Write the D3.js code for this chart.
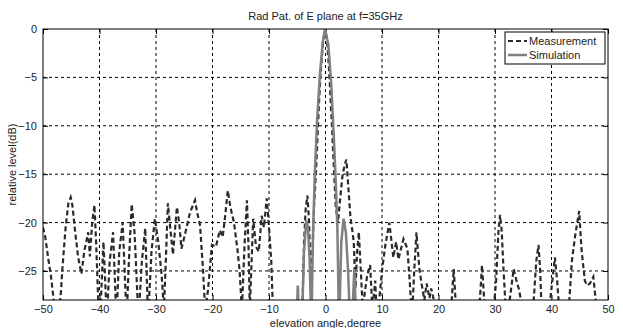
<!DOCTYPE html>
<html>
<head>
<meta charset="utf-8">
<script src="https://cdn.jsdelivr.net/npm/d3@7"></script>
<style>
  body { margin: 0; background: #fff; }
  text { font-family: "Liberation Sans", Arial, sans-serif; fill: #222; }
</style>
</head>
<body>
<div id="chart"></div>
<script>
const title = 'Rad Pat. of E plane at f=35GHz';
const xLabel = 'elevation angle,degree';
const yLabel = 'relative level(dB)';
const xTicks = [-50, -40, -30, -20, -10, 0, 10, 20, 30, 40, 50];
const yTicks = [0, -5, -10, -15, -20, -25];
const seriesNames = ['Measurement', 'Simulation'];

const measAngle = [
  -50, -49.6, -49, -48.6, -48.2, -47.8, -47.3, -46.8, -46.6, -46, -45.5, -45.1, -44.8, -44.3, -43.8, -43.2,
  -42.7, -42, -41.7, -41.3, -40.9, -40.6, -40.2, -39.9, -39.3, -38.7, -38.2, -37.6, -37, -36.5, -35.9, -35.2,
  -34.8, -34.3, -33.8, -33.1, -32.5, -31.9, -31.4, -30.8, -30.2, -29.6, -29, -28.6, -28.2, -27.9, -27.4, -27,
  -26.3, -25.9, -25.5, -24.9, -24, -23.1, -22.7, -22.2, -21.7, -21.3, -20.8, -20.5, -20.1, -19.4, -18.7, -18.2,
  -17.7, -17.3, -16.8, -16.2, -15.6, -15.2, -14.8, -14.3, -13.9, -13.6, -13.4, -12.8, -12.3, -11.8, -11.3, -10.9,
  -10.4, -10, -9.6, -9.3, -8.9, -8.5, -8, -7, -6, -5, -4.4, -4.1, -3.8, -3.5, -3.2, -2.9,
  -2.6, -2.3, -2, -1.7, -1.4, -1.1, -0.8, -0.4, 0, 0.3, 0.6, 0.9, 1.2, 1.5, 1.8, 2.2,
  2.6, 3, 3.4, 3.7, 4, 4.4, 4.7, 5, 5.3, 5.6, 5.9, 6.2, 6.6, 7, 7.4, 7.9,
  8.3, 8.8, 9.1, 9.5, 10, 10.6, 11.3, 12, 12.5, 12.9, 13.8, 14.5, 14.9, 15.3, 15.7, 16.1,
  16.6, 17, 17.5, 17.9, 18.4, 18.7, 19.1, 19.5, 20, 21, 22, 22.7, 23.3, 24, 25, 26,
  27, 27.7, 28.3, 29, 29.6, 30.2, 30.6, 30.9, 31.2, 31.5, 32, 32.6, 33.3, 33.8, 34.2, 34.6,
  35, 35.8, 36.4, 36.8, 37.3, 37.7, 38, 38.3, 39, 39.6, 40, 40.6, 41, 41.5, 42.2, 43,
  43.6, 44.2, 44.9, 45.3, 45.9, 46.3, 46.8, 47.4, 48, 48.5, 49.2, 50
];
const measLevel = [
  -20.5, -21.5, -24, -25.5, -27.5, -30, -30, -27, -25, -20.5, -18, -17.4, -18.2, -21, -23.5, -25.3,
  -23, -21, -23.5, -20, -18.2, -22, -28.5, -30, -22, -30, -24, -21, -30, -23, -20, -30,
  -24, -18.1, -21, -30, -24, -20.6, -30, -23, -19.6, -22, -25.4, -29, -23, -18, -21, -23.3,
  -18.4, -20, -22.7, -21.3, -19, -17.7, -19, -20.3, -24.7, -29, -27, -25, -22.3, -22.5, -20.8, -21.5,
  -19, -16.7, -18.5, -20, -22.7, -25, -29, -22, -17.7, -23, -29, -19.6, -22.5, -23, -19.3, -20.5,
  -17.5, -20.5, -24, -29, -31, -30, -33, -34, -33, -34, -32, -29, -22, -18.5, -17.2, -20,
  -26, -23, -18, -15, -11, -7, -4, -1.2, 0, -1.3, -3.9, -7.2, -10.7, -14.5, -18.2, -20,
  -17.5, -15.2, -14, -13.5, -16, -19.3, -20.6, -22, -26.8, -23, -21, -24.4, -29, -27, -25.4, -24.4,
  -29, -26, -30, -28, -25, -22.3, -20, -23.6, -22, -23.8, -21.7, -22.7, -26, -30, -25, -21,
  -24.7, -26.3, -28, -26.3, -27.8, -26.8, -27.8, -30, -32, -33, -31, -24.8, -31, -34, -33, -34,
  -31, -24.4, -30, -32, -30, -26, -21, -19.2, -21, -24.8, -30, -28, -24.8, -26, -26.8, -28,
  -31, -33, -31, -28.5, -24, -22.3, -25, -30, -32, -29, -26.8, -23.6, -26, -30, -32, -29.5,
  -24, -21.3, -18.8, -22.7, -26, -26.5, -26.3, -25.6, -29, -31, -33, -34
];

// simulated pattern
const simAngle = [
  -6, -5.3, -4.9, -4.5, -4.2, -3.8, -3.4, -3.1, -2.8, -2.5, -2.2, -1.9, -1.5, -1, -0.5, -0.1,
  0.5, 1, 1.5, 1.8, 2.1, 2.4, 2.8, 3.2, 3.6, 4, 4.5, 5.1, 5.6, 6
];
const simLevel = [
  -35, -33, -26.5, -33, -31, -23, -19.8, -20.5, -24, -31, -21, -15, -9.5, -4.8, -1.4, 0,
  -1.6, -5.5, -11.5, -15.5, -20.5, -31, -22, -19.6, -21, -25, -33, -24.8, -33, -35
];

const W = 623, H = 328;
const margin = { top: 29, right: 15, bottom: 28, left: 43 };
const width = W - margin.left - margin.right;
const height = H - margin.top - margin.bottom;

const svg = d3.select('#chart').append('svg')
  .attr('width', W)
  .attr('height', H);

const g = svg.append('g')
  .attr('transform', 'translate(' + margin.left + ',' + margin.top + ')');

const x = d3.scaleLinear().domain([-50, 50]).range([0, width]);
const y = d3.scaleLinear().domain([-28, 0]).range([height, 0]);

svg.append('defs').append('clipPath').attr('id', 'clip')
  .append('rect').attr('width', width).attr('height', height);

// grid
const grid = g.append('g').attr('class', 'grid');
grid.selectAll('line.gx')
  .data(xTicks.slice(1, -1))
  .enter().append('line')
  .attr('x1', d => x(d)).attr('x2', d => x(d))
  .attr('y1', 0).attr('y2', height);
grid.selectAll('line.gy')
  .data(yTicks.slice(1))
  .enter().append('line')
  .attr('x1', 0).attr('x2', width)
  .attr('y1', d => y(d)).attr('y2', d => y(d));
grid.selectAll('line')
  .attr('stroke', '#000')
  .attr('stroke-width', 1)
  .attr('stroke-dasharray', '3,3');

// axes (ticks point inward, matlab style)
const xAxis = g.append('g')
  .attr('transform', 'translate(0,' + height + ')')
  .call(d3.axisBottom(x).tickValues(xTicks).tickSize(-5).tickPadding(5).tickFormat(d3.format('d')));
const yAxis = g.append('g')
  .call(d3.axisLeft(y).tickValues(yTicks).tickSize(-5).tickPadding(6).tickFormat(d3.format('d')));
g.append('g')
  .call(d3.axisTop(x).tickValues(xTicks).tickSize(-5).tickFormat(''));
g.append('g')
  .attr('transform', 'translate(' + width + ',0)')
  .call(d3.axisRight(y).tickValues(yTicks).tickSize(-5).tickFormat(''));

g.selectAll('.domain').remove();
g.selectAll('.tick line').attr('stroke', '#000');
xAxis.selectAll('text').style('font-size', '11px').attr('fill', '#222');
yAxis.selectAll('text').style('font-size', '11px').attr('fill', '#222');

// lines: measurement first, simulation drawn over it
const line = d3.line()
  .x(d => x(d[0]))
  .y(d => y(d[1]));

const meas = measAngle.map((a, i) => [a, measLevel[i]]);
const sim = simAngle.map((a, i) => [a, simLevel[i]]);

const plot = g.append('g').attr('clip-path', 'url(#clip)');
plot.append('path')
  .datum(meas)
  .attr('fill', 'none')
  .attr('stroke', '#2a2a2a')
  .attr('stroke-width', 2.2)
  .attr('stroke-dasharray', '5,3')
  .attr('d', line);
plot.append('path')
  .datum(sim)
  .attr('fill', 'none')
  .attr('stroke', '#808080')
  .attr('stroke-width', 2.5)
  .attr('d', line);

// frame
g.append('rect')
  .attr('width', width).attr('height', height)
  .attr('fill', 'none').attr('stroke', '#000').attr('stroke-width', 1);

// legend
const lg = g.append('g').attr('transform', 'translate(' + (x(50) - 103) + ',3)');
lg.append('rect')
  .attr('width', 100).attr('height', 32)
  .attr('fill', '#fff').attr('stroke', '#000');
const styles = [
  { stroke: '#2a2a2a', width: 2, dash: '5,3' },
  { stroke: '#808080', width: 2.5, dash: null }
];
seriesNames.forEach((name, i) => {
  const yy = 9 + i * 14;
  lg.append('line')
    .attr('x1', 3).attr('x2', 22)
    .attr('y1', yy).attr('y2', yy)
    .attr('stroke', styles[i].stroke)
    .attr('stroke-width', styles[i].width)
    .attr('stroke-dasharray', styles[i].dash);
  lg.append('text')
    .attr('x', 24).attr('y', yy + 4)
    .style('font-size', '11px')
    .text(name);
});

// titles
svg.append('text')
  .attr('x', margin.left + width / 2).attr('y', 20)
  .attr('text-anchor', 'middle')
  .style('font-size', '11px')
  .text(title);
svg.append('text')
  .attr('x', margin.left + width / 2).attr('y', 327)
  .attr('text-anchor', 'middle')
  .style('font-size', '11px')
  .text(xLabel);
svg.append('text')
  .attr('transform', 'translate(16,' + (margin.top + height / 2) + ') rotate(-90)')
  .attr('text-anchor', 'middle')
  .style('font-size', '11px')
  .text(yLabel);
</script>
</body>
</html>
